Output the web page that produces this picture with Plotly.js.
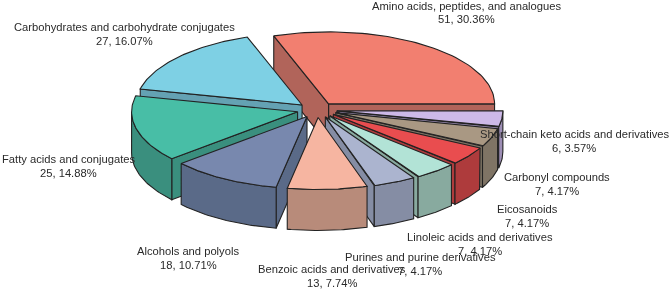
<!DOCTYPE html>
<html>
<head>
<meta charset="utf-8">
<script src="https://cdn.plot.ly/plotly-3.0.1.min.js"></script>
<style>html,body{margin:0;padding:0;background:#fff;overflow:hidden}#chart{width:669px;height:289px;filter:blur(0.35px)}</style>
</head>
<body>
<div id="chart"></div>
<script>
const categories = ["Amino acids, peptides, and analogues","Carbohydrates and carbohydrate conjugates","Fatty acids and conjugates","Alcohols and polyols","Benzoic acids and derivatives","Purines and purine derivatives","Linoleic acids and derivatives","Eicosanoids","Carbonyl compounds","Short-chain keto acids and derivatives"];
const counts = [51,27,25,18,13,7,7,7,7,6];
const percents = ["30.36%","16.07%","14.88%","10.71%","7.74%","4.17%","4.17%","4.17%","4.17%","3.57%"];
const topColors = ["#F27F70","#7ED0E4","#48BEA6","#7888AE","#F6B5A1","#ABB4CF","#B2E3D6","#E94D4F","#A99883","#CDB9E8"];
const sideColors = ["#B1645A","#64A2B3","#3A8F7E","#5A6A88","#B88B7A","#858DA4","#88AA9F","#AE3B3C","#7F7465","#9D8EB5"];
const labelX = [466,124.5,68,188,332,420,480,527,557,574];
const labelY = [5.5,27,159,251,269,257,237,209,177,134];

const cx=317, cy=110, rx=166, ry=72, ex=20, ey=7.5, depth=41, edgeColor="#222";
const total = counts.reduce((a,b)=>a+b,0);
const rad = d=>d*Math.PI/180;
const traces = [];
function poly(xs,ys,fill){
  traces.push({type:"scatter",mode:"lines",x:[...xs,xs[0]],y:[...ys,ys[0]],fill:"toself",fillcolor:fill,
    line:{color:edgeColor,width:1.1},hoverinfo:"skip",showlegend:false});
}
let acc=0;
const slices = counts.map((c,i)=>{
  const a0=acc; acc+=c/total*360; const a1=acc; const m=(a0+a1)/2;
  return {i,a0,a1,m,px:cx+ex*Math.cos(rad(m)),py:cy-ey*Math.sin(rad(m))};
});
const arcPt=(s,a,dz)=>[s.px+rx*Math.cos(rad(a)),s.py-ry*Math.sin(rad(a))+dz];
function drawSlice(s){
  const side=sideColors[s.i], top=topColors[s.i];
  [[s.a0,s.a0-90],[s.a1,s.a1+90]].forEach(([a,n])=>{
    if(Math.sin(rad(n))<0){
      const e=arcPt(s,a,0);
      poly([s.px,e[0],e[0],s.px],[s.py,e[1],e[1]+depth,s.py+depth],side);
    }
  });
  const from=Math.max(s.a0,180), to=s.a1;
  if(to>from){
    const xs=[],ys=[];const n=40;
    for(let k=0;k<=n;k++){const p=arcPt(s,from+(to-from)*k/n,0);xs.push(p[0]);ys.push(p[1]);}
    for(let k=n;k>=0;k--){const p=arcPt(s,from+(to-from)*k/n,depth);xs.push(p[0]);ys.push(p[1]);}
    poly(xs,ys,side);
  }
  const xs=[s.px],ys=[s.py];const n=60;
  for(let k=0;k<=n;k++){const p=arcPt(s,s.a0+(s.a1-s.a0)*k/n,0);xs.push(p[0]);ys.push(p[1]);}
  poly(xs,ys,top);
}
[0,1,9,2,8,7,6,3,5,4].forEach(i=>drawSlice(slices[i]));

const font={family:"Liberation Sans, Arial, sans-serif",size:11.2,color:"#2a2a2a"};
const annotations=[];
categories.forEach((c,i)=>{
  annotations.push({x:labelX[i],y:labelY[i],xref:"x",yref:"y",text:c,showarrow:false,font,xanchor:"center",yanchor:"middle"});
  annotations.push({x:labelX[i],y:labelY[i]+13.6,xref:"x",yref:"y",text:counts[i]+", "+percents[i],showarrow:false,font,xanchor:"center",yanchor:"middle"});
});
Plotly.newPlot("chart",traces,{
  width:669,height:289,margin:{l:0,r:0,t:0,b:0},paper_bgcolor:"#fff",plot_bgcolor:"#fff",showlegend:false,
  xaxis:{range:[0,669],visible:false,fixedrange:true},
  yaxis:{range:[289,0],visible:false,fixedrange:true},
  annotations
},{displayModeBar:false,staticPlot:true});
</script>
</body>
</html>
